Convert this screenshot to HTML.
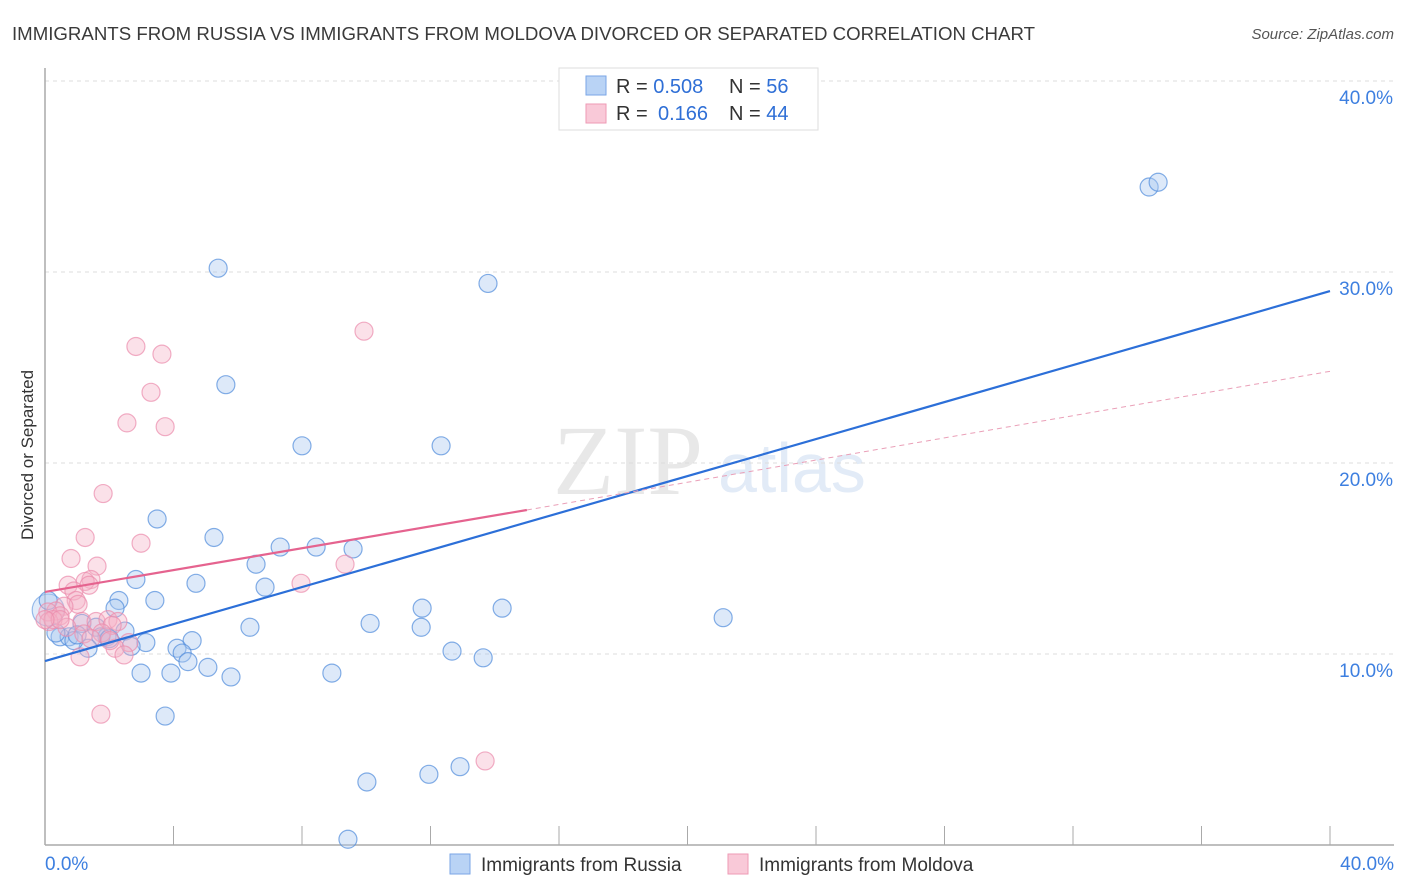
<!DOCTYPE html>
<html><head><meta charset="utf-8"><style>
body{margin:0;background:#fff;font-family:"Liberation Sans",sans-serif;}
svg{display:block}
</style></head><body>
<svg id="chart" width="1406" height="892">
<text x="12" y="40" font-size="18" fill="#3a3a3a" textLength="1023" lengthAdjust="spacingAndGlyphs">IMMIGRANTS FROM RUSSIA VS IMMIGRANTS FROM MOLDOVA DIVORCED OR SEPARATED CORRELATION CHART</text>
<text x="1394" y="39" font-size="15" fill="#555" font-style="italic" text-anchor="end">Source: ZipAtlas.com</text>
<text transform="translate(33,455) rotate(-90)" font-size="17" fill="#333" text-anchor="middle">Divorced or Separated</text>
<text x="553" y="494" font-size="100" fill="#e8e8e8" font-family="Liberation Serif,serif">ZIP</text>
<text x="718" y="492" font-size="70" fill="#e2ebf7">atlas</text>
<g id="grid"></g><g id="axes"></g><g id="marks"></g>
<g>
<rect x="559" y="68" width="259" height="62" fill="#fff" stroke="#ddd"/>
<rect x="586" y="76" width="20" height="19" fill="#b9d3f5" stroke="#7aa6e6"/>
<rect x="586" y="104" width="20" height="19" fill="#f9c9d8" stroke="#ee9ab5"/>
<text x="616" y="93" font-size="20" fill="#333">R = <tspan fill="#2f6fd6">0.508</tspan><tspan x="729">N = </tspan><tspan fill="#2f6fd6">56</tspan></text>
<text x="616" y="120" font-size="20" fill="#333">R = <tspan x="658" fill="#2f6fd6">0.166</tspan><tspan x="729">N = </tspan><tspan fill="#2f6fd6">44</tspan></text>
</g>
<g>
<rect x="450" y="854" width="20" height="20" fill="#b9d3f5" stroke="#7aa6e6"/>
<text x="481" y="871" font-size="19" fill="#333">Immigrants from Russia</text>
<rect x="728" y="854" width="20" height="20" fill="#f9c9d8" stroke="#ee9ab5"/>
<text x="759" y="871" font-size="19" fill="#333">Immigrants from Moldova</text>
</g>
</svg>
<script>
const russiaX=[5.39,13.79,34.37,34.65,5.63,8.0,12.33,3.49,5.26,7.32,8.44,9.59,6.57,2.83,4.70,6.85,3.42,2.30,2.18,11.74,14.23,21.11,10.12,11.71,6.38,1.15,1.59,2.49,1.93,0.47,0.75,1.74,3.14,4.58,1.34,2.68,4.11,4.27,12.67,13.64,4.45,5.07,2.99,3.92,5.79,8.93,3.74,10.02,11.95,12.92,9.43,0.1,0.34,0.9,1.0,2.0];
const russiaY=[30.2,29.4,34.45,34.7,24.1,20.9,20.9,17.07,16.1,15.6,15.6,15.5,14.7,13.9,13.7,13.5,12.8,12.8,12.4,12.4,12.4,11.9,11.6,11.4,11.4,11.6,11.4,11.2,10.9,10.9,10.9,10.9,10.6,10.7,10.3,10.4,10.3,10.05,10.15,9.8,9.6,9.3,9.0,9.0,8.8,9.0,6.75,3.3,3.7,4.1,0.3,12.8,11.1,10.7,11.0,10.8];
const moldovaX=[2.83,3.64,9.93,3.30,2.55,3.74,1.81,1.25,2.99,0.81,1.62,1.43,1.25,0.72,1.37,7.97,9.34,0.90,0.97,1.03,0.59,0.34,0.09,0.47,0.12,0.25,1.15,1.59,0.68,1.96,2.27,2.09,1.77,1.21,1.43,2.61,2.18,2.46,1.09,1.74,13.70,0.47,2.02,0.0];
const moldovaY=[26.1,25.7,26.9,23.7,22.1,21.9,18.4,16.1,15.8,15.0,14.6,13.9,13.8,13.6,13.6,13.7,14.7,13.3,12.8,12.6,12.5,12.25,12.2,12.0,11.7,11.8,11.7,11.7,11.4,11.8,11.7,11.5,11.1,11.05,10.8,10.6,10.3,9.95,9.85,6.85,4.4,11.8,10.7,11.8];
const bigPointX=[0.1];
const bigPointY=[12.3];
const russiaTrend=[9.63,29.0];
const moldovaTrend=[13.25,17.54,24.8];
const moldovaSolidEnd=15.0;
const yTicks=[10,20,30,40];
const yTickLabels=["10.0%","20.0%","30.0%","40.0%"];
const xTicks=[0,4,8,12,16,20,24,28,32,36,40];
const xLabels=["0.0%","40.0%"];
const NS="http://www.w3.org/2000/svg";
const xs=v=>45+v*1285/40, ys=v=>845-v*19.1;
function mk(tag,attrs,parent){const e=document.createElementNS(NS,tag);for(const k in attrs)e.setAttribute(k,attrs[k]);document.getElementById(parent).appendChild(e);return e;}
yTicks.forEach((t,i)=>{
 let l=mk('line',{x1:45,x2:1394,y1:ys(t),y2:ys(t),stroke:'#ddd','stroke-dasharray':'4,4'},'grid');
 
 
 let tx=mk('text',{x:1393,y:ys(t)+23,'font-size':19,fill:'#3d7fe0','text-anchor':'end'},'axes');tx.textContent=yTickLabels[i];
 
 
});
let ax=mk('line',{x1:45,x2:45,y1:68,y2:845,stroke:'#aaa','stroke-width':1.5},'axes');


let bx=mk('line',{x1:45,x2:1394,y1:845,y2:845,stroke:'#aaa','stroke-width':1.5},'axes');


xTicks.forEach(t=>{let l=mk('line',{x1:xs(t),x2:xs(t),y1:826,y2:845,stroke:'#aaa'},'axes');
 
 });
[[0,'start',45],[40,'end',1394]].forEach((a,i)=>{let t=mk('text',{x:a[2],y:870,'font-size':19,fill:'#3d7fe0','text-anchor':a[1]},'axes');t.textContent=xLabels[i];
 
 });
bigPointX.forEach((x,i)=>{let c=mk('circle',{cx:xs(x),cy:ys(bigPointY[i]),r:16,fill:'rgba(170,200,240,0.35)',stroke:'rgba(90,145,220,0.6)','stroke-width':1.2},'marks');
 
 });
russiaX.forEach((x,i)=>{let c=mk('circle',{cx:xs(x),cy:ys(russiaY[i]),r:9,fill:'rgba(170,200,240,0.4)',stroke:'rgba(80,140,220,0.7)','stroke-width':1.2},'marks');
 
 });
moldovaX.forEach((x,i)=>{let c=mk('circle',{cx:xs(x),cy:ys(moldovaY[i]),r:9,fill:'rgba(245,175,198,0.38)',stroke:'rgba(235,140,172,0.7)','stroke-width':1.2},'marks');
 
 });
let tr=mk('line',{x1:xs(0),y1:ys(russiaTrend[0]),x2:xs(40),y2:ys(russiaTrend[1]),stroke:'#2c6fd8','stroke-width':2.2},'marks');


let tm=mk('line',{x1:xs(0),y1:ys(moldovaTrend[0]),x2:xs(moldovaSolidEnd),y2:ys(moldovaTrend[1]),stroke:'#e5638f','stroke-width':2.2},'marks');


let td=mk('line',{x1:xs(moldovaSolidEnd),y1:ys(moldovaTrend[1]),x2:xs(40),y2:ys(moldovaTrend[2]),stroke:'#eaa0b8','stroke-width':1,'stroke-dasharray':'5,4'},'marks');


</script>
</body></html>
